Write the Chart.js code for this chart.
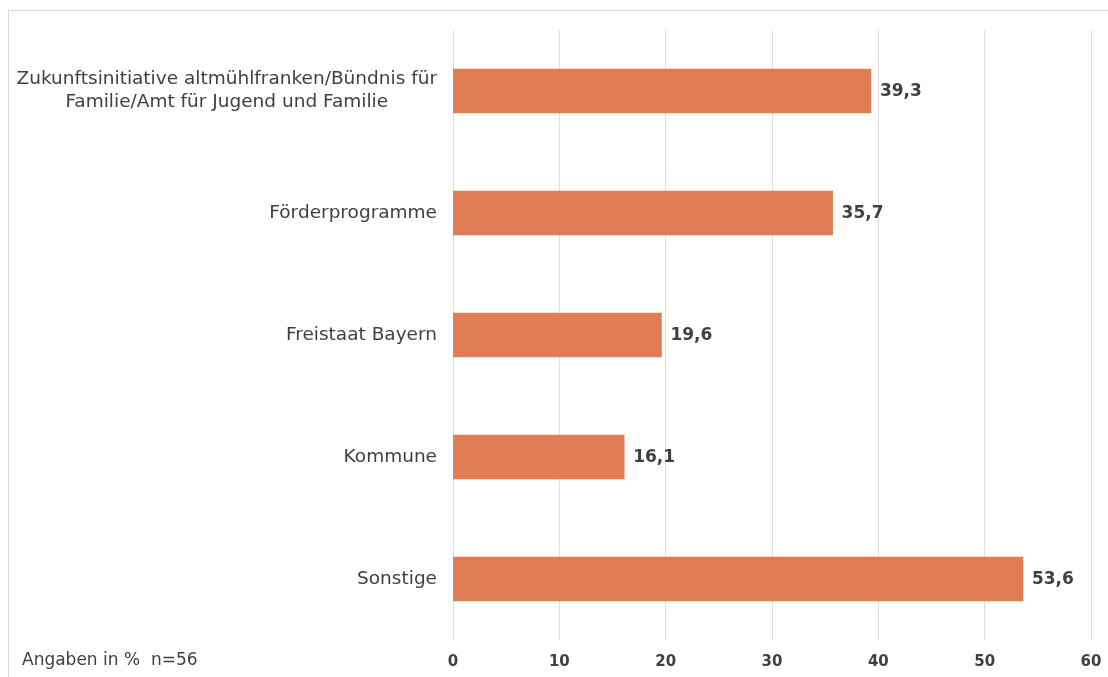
<!DOCTYPE html>
<html>
<head>
<meta charset="utf-8">
<script src="https://cdn.jsdelivr.net/npm/chart.js@4"></script>
<style>
  html, body { margin: 0; padding: 0; background: #fff; overflow: hidden; }
  #frame { position: absolute; left: 8px; top: 10px; width: 1120px; height: 680px; border: 1px solid #d9d9d9; box-sizing: border-box; }
  #myChart { position: absolute; left: 0; top: 0; }
</style>
</head>
<body>
<div id="frame"></div>
<canvas id="myChart" width="1108" height="677"></canvas>
<script>
const categories = [
	['Zukunftsinitiative altmühlfranken/Bündnis für', 'Familie/Amt für Jugend und Familie'],
	'Förderprogramme',
	'Freistaat Bayern',
	'Kommune',
	'Sonstige'
];
const values = [39.3, 35.7, 19.6, 16.1, 53.6];
const xTicks = [0, 10, 20, 30, 40, 50, 60];
const footnote = 'Angaben in %  n=56';

const textColor = '#404040';
const fontFamily = '"DejaVu Sans", Verdana, sans-serif';

// category labels, Excel style: lines centred on each other, block right aligned
const categoryLabels = {
	id: 'categoryLabels',
	afterDraw(chart) {
		let ctx = chart.ctx;
		let yScale = chart.scales.y;
		let right = chart.chartArea.left - 16;
		ctx.save();
		ctx.font = '18.5px ' + fontFamily;
		ctx.fillStyle = textColor;
		ctx.textAlign = 'center';
		ctx.textBaseline = 'middle';
		categories.forEach((label, i) => {
			let lines = Array.isArray(label) ? label : [label];
			let maxW = Math.max(...lines.map(l => ctx.measureText(l).width));
			let cx = right - maxW / 2;
			let y = yScale.getPixelForValue(i);
			let lh = 23;
			let start = y - (lines.length - 1) * lh / 2;
			lines.forEach((l, j) => ctx.fillText(l, cx, start + j * lh));
		});

		// value labels at bar ends
		ctx.font = 'bold 17px ' + fontFamily;
		ctx.textAlign = 'left';
		let meta = chart.getDatasetMeta(0);
		meta.data.forEach((bar, i) => {
			ctx.fillText(values[i].toFixed(1).replace('.', ','), bar.x + 9, bar.y + 1);
		});

		// footnote
		ctx.font = '17px ' + fontFamily;
		ctx.fillText(footnote, 22, 661);
		ctx.restore();
	}
};

let ctx = document.getElementById('myChart');
let myChart = new Chart(ctx, {
	type: 'bar',
	data: {
		labels: categories,
		datasets: [{
			data: values,
			backgroundColor: 'rgb(225,125,84)',
			borderWidth: 0,
			barThickness: 44
		}]
	},
	options: {
		indexAxis: 'y',
		responsive: false,
		animation: false,
		layout: { padding: { top: 30, right: 17, left: 0, bottom: 0 } },
		plugins: {
			legend: { display: false },
			tooltip: { enabled: false }
		},
		scales: {
			x: {
				min: 0,
				max: 60,
				afterBuildTicks(scale) {
					scale.ticks = xTicks.map(v => ({ value: v }));
				},
				afterFit(scale) {
					scale.height = 37;
					scale.paddingLeft = 0;
					scale.paddingRight = 0;
				},
				grid: { color: '#e2dede', lineWidth: 1, drawTicks: false },
				border: { display: false },
				ticks: {
					color: textColor,
					font: { family: fontFamily, size: 15, weight: 'bold' },
					padding: 13,
					maxRotation: 0
				}
			},
			y: {
				afterFit(scale) { scale.width = 453; },
				grid: { display: false },
				border: { display: false },
				ticks: { display: false }
			}
		}
	},
	plugins: [categoryLabels]
});
</script>
</body>
</html>
